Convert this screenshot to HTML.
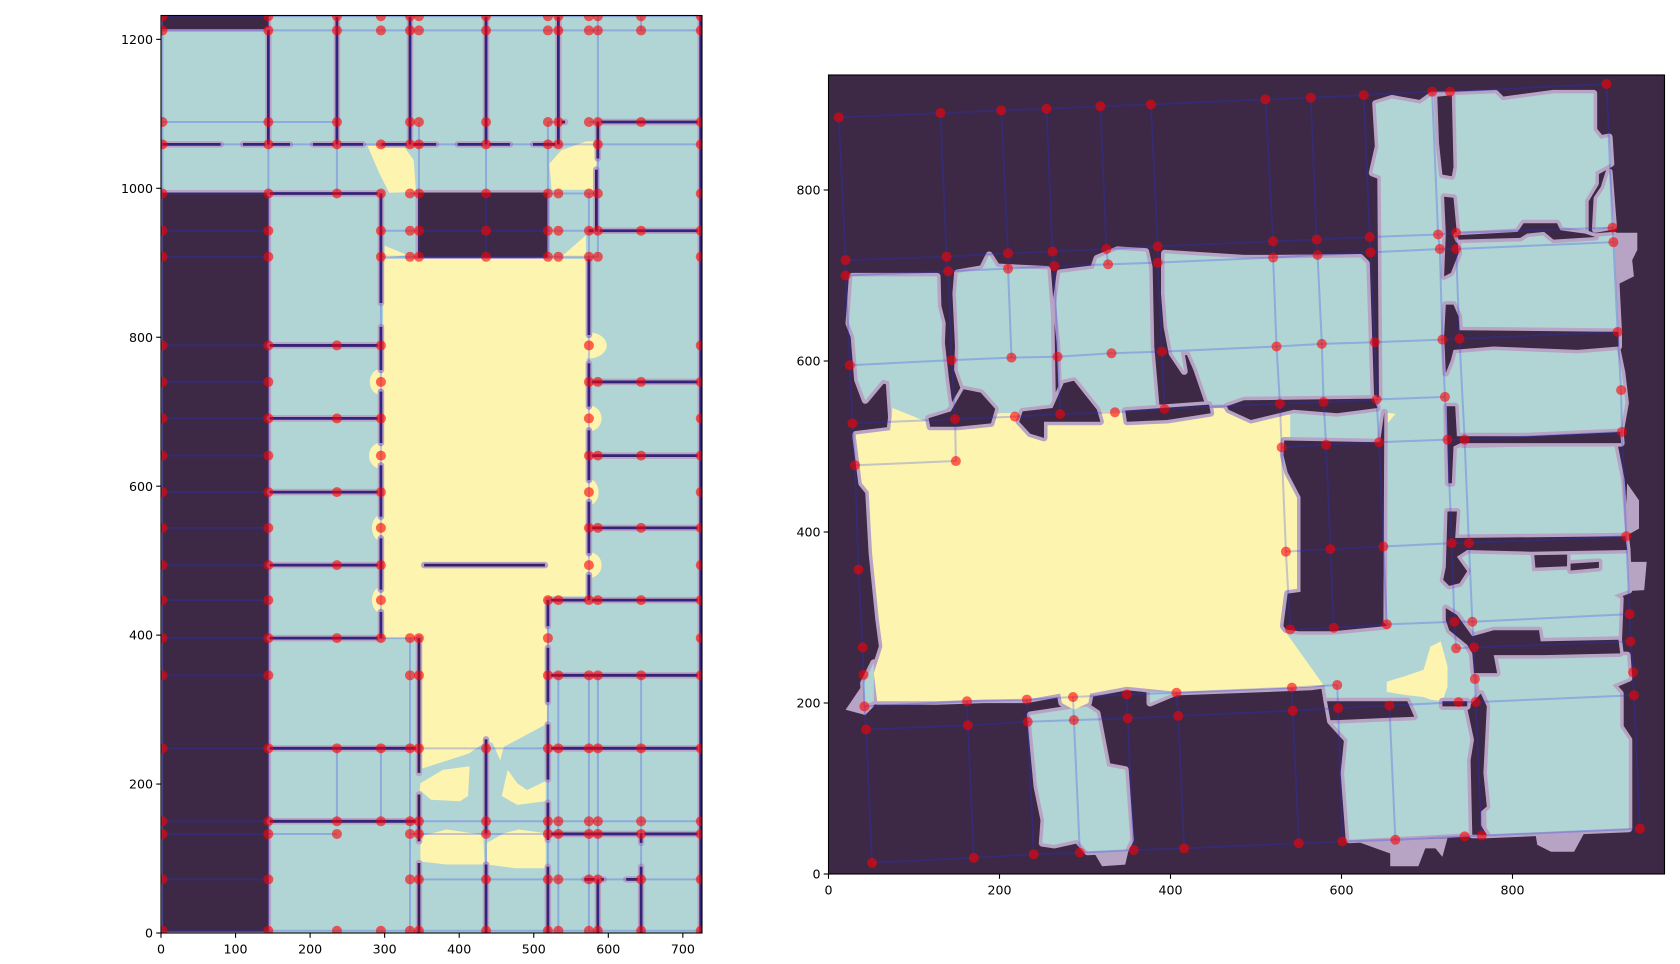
<!DOCTYPE html>
<html>
<head>
<meta charset="utf-8">
<title>Floor plan grid comparison</title>
<style>
html,body{margin:0;padding:0;background:#fff;width:1680px;height:964px;overflow:hidden}
svg{display:block}
text{font-family:"DejaVu Sans","Liberation Sans",sans-serif;font-size:12.6px;fill:#000}
</style>
</head>
<body>
<svg id="figure" xmlns="http://www.w3.org/2000/svg" width="1680" height="964" viewBox="0 0 1680 964">
<defs>
<clipPath id="clip-left"><rect x="161" y="15.5" width="541" height="917.5"/></clipPath>
<clipPath id="clip-right"><rect x="828.5" y="75" width="836" height="799"/></clipPath>
</defs>
<g id="left-plot" clip-path="url(#clip-left)"></g>
<g id="right-plot" clip-path="url(#clip-right)"></g>
<g id="axes-overlay"></g>
</svg>
<script>
const leftTicksX = [0,100,200,300,400,500,600,700];
const leftTicksY = [0,200,400,600,800,1000,1200];
const rightTicksX = [0,200,400,600,800];
const rightTicksY = [0,200,400,600,800];

const leftColumns = [2,144,236,295,334,346,436,519,533,574,586,644,724];
const leftRows = [1231,1212,1089,1059,993,943,908,789,740,691,641,592,544,494,447,396,346,248,150,133,72,3];
const leftRowPoints = [
[0,1,2,3,4,5,6,7,8,9,10,11,12],[0,1,2,3,4,5,6,7,8,9,10,11,12],[0,1,2,4,5,6,7,8,9,10,11,12],
[0,1,2,3,4,5,6,7,8,10,12],[0,1,2,3,4,5,6,7,8,9,10,12],[0,1,3,4,5,6,7,8,9,10,11,12],
[0,1,3,4,5,6,7,8,9,10,12],[0,1,2,3,9,12],[0,1,3,9,10,11,12],[0,1,2,3,9,12],[0,1,3,9,10,11,12],
[0,1,2,3,9,12],[0,1,3,9,10,11,12],[0,1,2,3,9,12],[0,1,3,7,8,9,10,11,12],[0,1,2,3,4,5,7,12],
[0,1,4,5,7,8,9,10,11,12],[0,1,2,3,4,5,6,7,8,9,10,11,12],[0,1,2,3,4,5,6,7,8,9,10,11,12],
[0,1,2,4,5,6,7,8,9,10,11,12],[0,1,4,5,6,7,8,9,10,11,12],[0,1,2,3,4,5,6,7,8,9,10,11,12]
];
const leftRowSpans = [
[0,0,12],[1,0,12],[2,0,2],[2,7,8],[2,9,12],[3,0,12],[4,0,3],[4,4,5],[4,7,10],[5,0,1],[5,3,12],[6,0,1],[6,3,10],
[7,0,3],[8,0,1],[8,9,12],[9,0,3],[10,0,1],[10,9,12],[11,0,3],[12,0,1],[12,9,12],[13,0,3],[14,0,1],[14,7,12],
[15,0,5],[16,0,1],[16,7,12],[17,0,12],[18,0,12],[19,0,2],[19,4,12],[20,0,1],[20,5,12],[21,0,12]
];
const leftColumnSpans = [
[0,0,21],[1,0,21],[12,0,21],[2,0,4],[2,17,18],[3,4,15],[3,17,18],[4,0,3],[4,15,21],[5,2,6],[6,0,6],[6,17,21],
[7,2,6],[7,14,21],[8,0,3],[8,16,21],[9,4,14],[9,16,21],[10,0,2],[10,3,6],[10,16,21],[11,0,1],[11,16,21]
];
const leftDarkRects = [[0,146,0,996],[0,146,1212,1240],[343,520,905,996]];
const leftYellowCorridor = [[298,905],[571,905],[571,452],[520,452],[518,450],[518,285],[516,280],[460,250],[455,232],[445,255],[437,258],[413,241],[351,221],[347,221],[347,396],[298,396]];
const leftYellowIslands = [
[[277,1057],[326,1056],[339,1038],[342,995],[306,994],[293,1020]],
[[521,1033],[537,1051],[570,1063],[586,1063],[582,998],[524,998]],
[[300,923],[331,910],[300,907]],
[[570,937],[537,908],[570,908]],
[[348,201],[378,219],[414,224],[412,184],[401,177],[362,179],[347,192]],
[[457,184],[465,219],[478,201],[491,192],[516,204],[516,177],[478,172]],
[[348,130],[383,139],[432,132],[434,92],[383,92],[348,96]],
[[437,121],[460,134],[480,139],[516,134],[516,87],[475,87],[437,92]]
];
const leftBumpRows = [740,641,544,447,789,691,592,494];
const leftBumpCenters = [295,295,295,295,574,574,574,574];
const leftBumpExtents = [280,279,283,283,598,591,587,591];
const leftWallsH = [
[1089,586,724],[1089,533,542],[1059,2,80],[1059,110,173],[1059,204,271],[1059,296,369],[1059,398,468],[1059,499,534],
[993,146,295],[943,574,724],[789,146,295],[691,146,295],[592,146,295],[494,146,295],[396,146,295],[248,146,346],[150,146,346],
[740,574,724],[641,574,724],[544,574,724],[447,519,724],[346,519,724],[248,519,724],[133,519,724],[72,568,594],[72,624,644],[494,353,515]
];
const leftWallsV = [
[236,1059,1230],[334,1059,1230],[436,1059,1230],[533,1059,1230],[144,1059,1212],[586,1040,1089],[584,942,1025],
[295,846,993],[295,756,814],[295,658,727],[295,559,628],[295,461,530],[295,396,431],
[574,803,905],[574,707,765],[574,608,675],[574,510,579],[574,447,481],
[519,412,447],[519,310,383],[519,206,280],[519,125,175],[519,0,89],
[346,215,396],[346,123,186],[346,0,94],[436,134,260],[436,0,92],[586,0,72],[644,121,134],[644,0,89],[724,0,1240]
];

const rightPointsX = [
[12,131,202,255,318,377,511,564,626,706,727,910],
[20,138,210,262,325,385,520,571,633,713,734,917],
[20,140,210,264,327,385,520,572,634,715,734,918],
[25,144,214,268,331,390,524,577,639,718,738,923],
[28,148,218,271,335,393,528,579,641,721,null,927],
[31,149,null,null,null,null,530,582,644,724,744,928],
[35,null,null,null,null,null,535,587,649,729,749,933],
[40,null,null,null,null,null,540,591,653,732,753,937],
[41,null,null,null,null,null,null,null,null,734,755,938],
[42,162,232,286,349,407,542,595,null,null,756,941],
[44,163,233,287,350,409,543,596,656,737,757,942],
[51,170,240,294,357,416,550,601,663,744,764,949]
];
const rightPointsY = [
[885,890,893,895,898,900,906,908,911,915,915,924],
[718,722,726,728,731,734,740,742,745,748,750,756],
[700,705,708,711,713,715,721,724,727,731,731,739],
[595,601,604,605,609,611,617,620,622,625,626,634],
[527,532,535,538,540,544,550,552,555,558,null,566],
[478,483,null,null,null,null,499,502,505,508,508,517],
[356,null,null,null,null,null,377,380,383,387,387,395],
[265,null,null,null,null,null,286,288,292,295,295,304],
[233,null,null,null,null,null,null,null,null,264,265,272],
[196,202,204,207,210,212,218,221,null,null,228,236],
[169,174,178,180,182,185,191,194,197,201,201,209],
[13,19,23,25,28,30,36,38,40,44,45,53]
];
const rightRowSpans = [[0,0,11],[1,0,11],[2,0,11],[3,0,11],[4,0,9],[5,0,1],[5,6,11],[6,6,11],[7,6,11],[8,9,11],[9,0,7],[10,0,11],[11,0,11]];
const rightColumnSpans = [
[0,0,11],[1,0,5],[1,9,11],[2,0,3],[2,9,11],[3,0,4],[3,9,11],[4,0,2],[4,9,11],[5,0,4],[5,9,11],
[6,0,7],[6,9,11],[7,0,7],[7,9,11],[8,0,7],[8,10,11],[9,0,8],[10,1,11],[11,0,11]
];
const rightPurpleBlobs = [
[[918,750],[946,750],[946,730],[940,718],[942,699],[922,689]],
[[934,457],[948,437],[948,404],[932,395]],
[[936,365],[957,365],[954,332],[936,331]],
[[618,38],[657,24],[657,9],[690,9],[698,30],[710,30],[718,20],[724,42]],
[[827,46],[829,34],[845,26],[872,26],[885,50]],
[[310,26],[320,9],[347,11],[351,28]],
[[41,223],[20,192],[43,186],[53,196]]
];
const rightTealRooms = [
[[28,699],[127,699],[128,664],[133,644],[132,621],[137,578],[141,547],[119,525],[104,520],[74,530],[71,576],[63,578],[43,554],[34,578],[30,629],[24,644]],
[[151,703],[180,708],[188,724],[197,710],[256,707],[260,656],[262,545],[229,530],[199,530],[178,562],[158,570],[151,590],[152,617],[149,679]],
[[271,703],[310,708],[314,720],[338,730],[371,728],[375,710],[377,617],[383,547],[349,530],[322,530],[306,554],[283,576],[273,568],[271,621],[266,667]],
[[393,726],[486,720],[521,720],[622,721],[629,714],[634,558],[603,554],[544,554],[466,549],[445,549],[431,590],[422,611],[412,611],[416,588],[402,609],[396,640],[393,679]],
[[640,901],[659,907],[692,901],[706,911],[730,911],[740,815],[740,280],[757,240],[757,200],[717,190],[690,178],[677,195],[583,202],[580,221],[520,240],[520,537],[648,554],[646,816],[636,820],[643,851]],
[[731,911],[780,913],[788,905],[848,913],[895,913],[895,870],[903,860],[913,862],[915,831],[897,821],[897,808],[885,788],[885,751],[852,757],[809,759],[806,753],[735,749],[731,827]],
[[899,790],[907,802],[913,821],[918,758],[897,754]],
[[737,742],[809,745],[825,753],[848,744],[895,745],[919,747],[921,691],[924,634],[817,638],[738,636],[735,667],[735,722]],
[[731,613],[778,617],[876,613],[922,615],[928,586],[932,551],[926,517],[817,512],[731,512]],
[[731,498],[919,502],[927,461],[932,395],[845,391],[731,391]],
[[735,379],[821,377],[823,354],[868,356],[868,375],[934,377],[936,332],[919,326],[926,322],[924,274],[833,272],[831,285],[778,285],[755,280],[735,295]],
[[778,256],[934,256],[936,229],[917,221],[926,211],[926,172],[936,157],[936,53],[770,46],[768,118],[766,200],[762,211],[758,235],[782,235]],
[[587,179],[684,184],[718,196],[747,194],[755,157],[751,133],[753,48],[609,40],[603,118],[607,157]],
[[236,186],[302,196],[314,188],[326,126],[347,122],[353,40],[347,28],[303,26],[291,40],[264,34],[250,36],[252,63],[244,102]],
[[41,223],[53,247],[53,202],[43,198]],
[[376,200],[407,213],[376,213]]
];
const rightYellowHall = [[32,514],[72,519],[75,545],[115,529],[201,539],[322,541],[458,545],[540,537],[540,507],[552,441],[552,330],[536,285],[536,281],[579,221],[564,219],[408,213],[349,219],[306,211],[304,200],[287,192],[273,200],[271,211],[232,204],[182,204],[127,202],[57,202],[53,235],[63,266],[59,297],[51,375],[47,447],[39,457],[32,511]];
const rightYellowSpots = [
[[653,225],[673,231],[696,239],[704,266],[716,272],[724,243],[724,219],[718,202],[704,204],[696,207],[677,209],[653,213]],
[[650,540],[663,538],[652,525]]
];
const rightDarkWalls = [
[[712,909],[729,911],[731,827],[729,816],[718,818],[714,855]],
[[720,792],[731,791],[735,749],[737,726],[728,703],[720,699],[722,749]],
[[735,747],[806,751],[813,761],[852,761],[856,753],[885,749],[897,745],[848,742],[837,751],[817,749],[809,744],[737,742]],
[[722,666],[731,666],[737,652],[738,636],[924,634],[924,617],[876,613],[778,617],[731,613],[728,601],[722,586],[720,629]],
[[723,547],[733,547],[735,512],[817,512],[926,517],[927,504],[817,504],[739,504],[731,500],[729,457],[725,457]],
[[724,424],[735,424],[733,393],[932,395],[934,379],[821,377],[747,379],[735,371],[747,354],[738,340],[726,337],[719,344],[722,359]],
[[868,363],[901,365],[901,358],[868,355]],
[[722,311],[735,303],[753,278],[778,285],[831,285],[833,272],[924,274],[926,258],[837,256],[778,256],[782,235],[755,235],[753,258],[747,268],[726,285],[722,297]],
[[747,194],[763,211],[770,196],[766,118],[770,79],[763,73],[763,57],[770,46],[753,46],[751,133],[755,157]],
[[583,202],[677,202],[685,184],[595,180],[587,180]],
[[718,202],[747,202],[747,196],[718,196]],
[[117,533],[143,541],[158,567],[178,563],[195,544],[190,527],[151,523],[119,523]],
[[227,541],[262,545],[275,574],[287,577],[314,543],[318,529],[252,529],[252,510],[236,515],[223,529]],
[[347,542],[445,549],[447,539],[396,531],[349,529]],
[[466,547],[486,554],[638,556],[642,545],[595,539],[544,543],[494,531],[468,543]],
[[533,507],[645,505],[650,540],[649,295],[653,290],[590,284],[550,284],[535,286],[532,290],[537,328],[552,330],[552,441],[537,470],[532,490]]
];

const svgNS = 'http://www.w3.org/2000/svg';
const leftG = document.getElementById('left-plot');
const rightG = document.getElementById('right-plot');
const overlayG = document.getElementById('axes-overlay');

function xL(v){return 161 + v * 0.7455;}
function yL(v){return 933 - v * 0.7447;}
function xR(v){return 828.5 + v * 0.855;}
function yR(v){return 874 - v * 0.855;}

const COL_DARK = '#3d2845';
const COL_TEAL = '#b0d5d4';
const COL_YELLOW = '#fdf4b0';
const COL_HALO = '#b7a3c3';
const COL_WALL = '#36205f';

function make(parent, tag, attrs){
  const el = document.createElementNS(svgNS, tag);
  for (const k in attrs) el.setAttribute(k, attrs[k]);
  parent.appendChild(el);
  return el;
}
function polyPoints(pts, fx, fy){
  return pts.map(p => fx(p[0]).toFixed(1) + ',' + fy(p[1]).toFixed(1)).join(' ');
}
function polygon(parent, pts, fx, fy, attrs){
  const a = Object.assign({points: polyPoints(pts, fx, fy)}, attrs);
  return make(parent, 'polygon', a);
}

/* ---------- left plot ---------- */
const leftBg = make(leftG, 'rect', {x:161, y:15, width:542, height:919, fill:COL_TEAL});



leftDarkRects.forEach(r => {
  const el = make(leftG, 'rect', {x:xL(r[0]), y:yL(r[3]), width:xL(r[1])-xL(r[0]), height:yL(r[2])-yL(r[3]), fill:COL_DARK, stroke:COL_HALO, 'stroke-width':2.5});
  
  
});

leftBumpRows.forEach((row, i) => {
  const el = make(leftG, 'ellipse', {cx:xL(leftBumpCenters[i]), cy:yL(row), rx:Math.abs(xL(leftBumpExtents[i])-xL(leftBumpCenters[i])), ry:13, fill:COL_YELLOW});
  
  
});

const leftCorridor = polygon(leftG, leftYellowCorridor, xL, yL, {fill:COL_YELLOW});



leftYellowIslands.forEach(pts => {
  const el = polygon(leftG, pts, xL, yL, {fill:COL_YELLOW});
  
  
});

function leftWall(x1, y1, x2, y2){
  const h = make(leftG, 'line', {x1:xL(x1), y1:yL(y1), x2:xL(x2), y2:yL(y2), stroke:COL_HALO, 'stroke-width':6.5, 'stroke-linecap':'round'});
  
  
  const d = make(leftG, 'line', {x1:xL(x1), y1:yL(y1), x2:xL(x2), y2:yL(y2), stroke:COL_WALL, 'stroke-width':2.8});
  
  
}
leftWallsH.forEach(w => leftWall(w[1], w[0], w[2], w[0]));
leftWallsV.forEach(w => leftWall(w[0], w[1], w[0], w[2]));

leftRowSpans.forEach(s => {
  const y = leftRows[s[0]];
  const el = make(leftG, 'line', {x1:xL(leftColumns[s[1]]), y1:yL(y), x2:xL(leftColumns[s[2]]), y2:yL(y), stroke:'rgba(30,50,240,0.25)', 'stroke-width':2});
  
  
});
leftColumnSpans.forEach(s => {
  const x = leftColumns[s[0]];
  const el = make(leftG, 'line', {x1:xL(x), y1:yL(leftRows[s[1]]), x2:xL(x), y2:yL(leftRows[s[2]]), stroke:'rgba(30,50,240,0.25)', 'stroke-width':2});
  
  
});
leftRows.forEach((y, r) => {
  leftRowPoints[r].forEach(c => {
    const el = make(leftG, 'circle', {cx:xL(leftColumns[c]), cy:yL(y), r:5, fill:'rgba(255,0,0,0.6)'});
    
    
  });
});

/* ---------- right plot ---------- */
const rightBg = make(rightG, 'rect', {x:828, y:75, width:838, height:800, fill:COL_DARK});



rightPurpleBlobs.forEach(pts => {
  const el = polygon(rightG, pts, xR, yR, {fill:COL_HALO});
  
  
});
const yellowHalo = polygon(rightG, rightYellowHall, xR, yR, {fill:COL_HALO, stroke:COL_HALO, 'stroke-width':7, 'stroke-linejoin':'round'});


rightTealRooms.forEach(pts => {
  const el = polygon(rightG, pts, xR, yR, {fill:COL_HALO, stroke:COL_HALO, 'stroke-width':7, 'stroke-linejoin':'round'});
  
  
});
rightTealRooms.forEach(pts => {
  const el = polygon(rightG, pts, xR, yR, {fill:COL_TEAL});
  
  
});
const hall = polygon(rightG, rightYellowHall, xR, yR, {fill:COL_YELLOW});


rightYellowSpots.forEach(pts => {
  const el = polygon(rightG, pts, xR, yR, {fill:COL_YELLOW});
  
  
});
rightDarkWalls.forEach(pts => {
  const el = polygon(rightG, pts, xR, yR, {fill:COL_DARK, stroke:COL_HALO, 'stroke-width':7, 'stroke-linejoin':'round', 'paint-order':'stroke'});
  
  
});

function rightLine(r1, c1, r2, c2){
  const el = make(rightG, 'line', {x1:xR(rightPointsX[r1][c1]), y1:yR(rightPointsY[r1][c1]), x2:xR(rightPointsX[r2][c2]), y2:yR(rightPointsY[r2][c2]), stroke:'rgba(30,50,240,0.25)', 'stroke-width':2});
  
  
}
rightRowSpans.forEach(s => {
  let prev = null;
  for (let c = s[1]; c <= s[2]; c++) {
    if (rightPointsX[s[0]][c] === null) continue;
    if (prev !== null) rightLine(s[0], prev, s[0], c);
    prev = c;
  }
});
rightColumnSpans.forEach(s => {
  let prev = null;
  for (let r = s[1]; r <= s[2]; r++) {
    if (rightPointsX[r][s[0]] === null) continue;
    if (prev !== null) rightLine(prev, s[0], r, s[0]);
    prev = r;
  }
});
rightPointsX.forEach((row, r) => {
  row.forEach((x, c) => {
    if (x === null) return;
    const el = make(rightG, 'circle', {cx:xR(x), cy:yR(rightPointsY[r][c]), r:5, fill:'rgba(255,0,0,0.6)'});
    
    
  });
});

/* ---------- axes ---------- */
function drawAxes(name, left, top, right, bottom, ticksX, ticksY, fx, fy){
  const frame = make(overlayG, 'rect', {x:left, y:top, width:right-left, height:bottom-top, fill:'none', stroke:'#000', 'stroke-width':1.1});
  
  
  ticksX.forEach(v => {
    const t = make(overlayG, 'line', {x1:fx(v), y1:bottom, x2:fx(v), y2:bottom+4.8, stroke:'#000', 'stroke-width':1.1});
    
    
    const l = make(overlayG, 'text', {x:fx(v), y:bottom+20.5, 'text-anchor':'middle'});
    
    
    l.textContent = v;
  });
  ticksY.forEach(v => {
    const t = make(overlayG, 'line', {x1:left-4.8, y1:fy(v), x2:left, y2:fy(v), stroke:'#000', 'stroke-width':1.1});
    
    
    const l = make(overlayG, 'text', {x:left-8, y:fy(v)+4.6, 'text-anchor':'end'});
    
    
    l.textContent = v;
  });
}
drawAxes('left-axes', 161, 15.5, 702, 933, leftTicksX, leftTicksY, xL, yL);
drawAxes('right-axes', 828.5, 75, 1664.5, 874, rightTicksX, rightTicksY, xR, yR);
</script>
</body>
</html>
